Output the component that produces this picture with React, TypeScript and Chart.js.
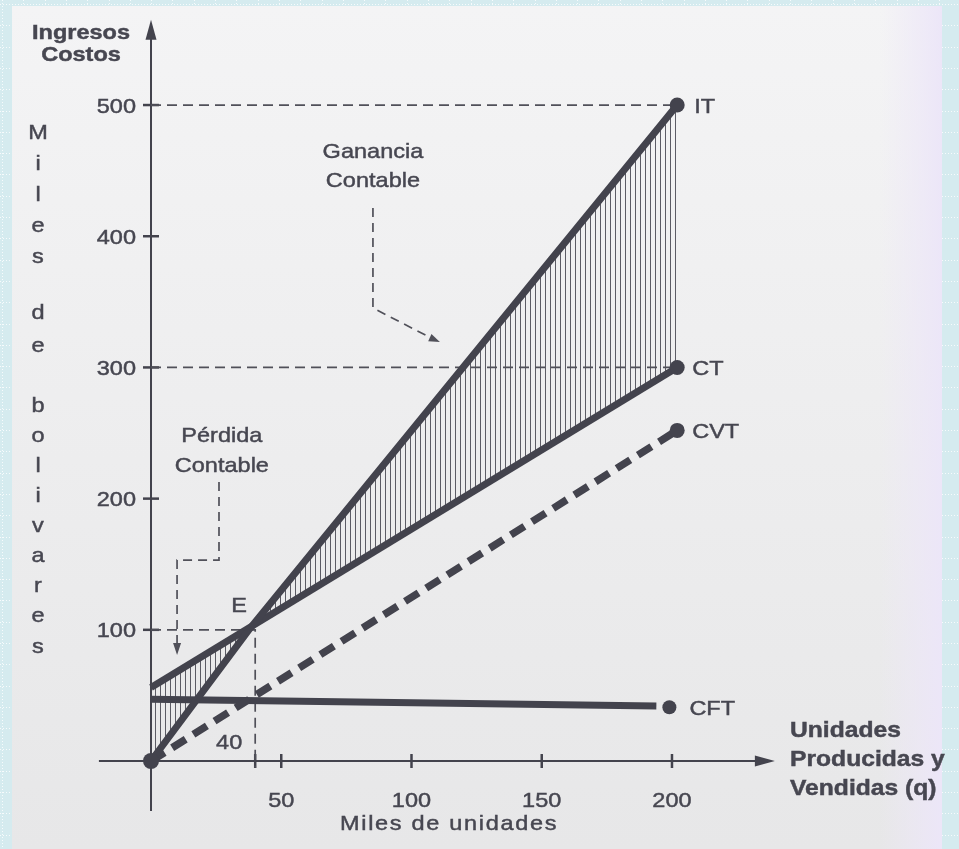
import React, { useEffect, useRef } from "react";
import { Chart, registerables } from "chart.js";
Chart.register(...registerables);

// ---- data (thousands of units / thousands of bolivares)
const itQ = [0, 38, 202];
const itV = [0, 101, 500];
const ctQ = [0, 202];
const ctV = [56, 300];
const cvtQ = [0, 202];
const cvtV = [0, 252];
const cftQ = [0, 194];
const cftV = [47, 42];
const markerQ = [0, 202, 202, 202, 199];
const markerV = [0, 500, 300, 252, 41];
const yTicks = [100, 200, 300, 400, 500];
const xTicks = [50, 100, 150, 200];
const breakEvenQ = 40;
const breakEvenV = 100;
const seriesLabels = ["IT", "CT", "CVT", "CFT"];
const yTitleWords = ["Miles", "de", "bolivares"];

const LINE = "#43434d";
const TEXT = "#474751";
const FONT = '"Liberation Sans", Arial, Helvetica, sans-serif';

const pts = (qs: number[], vs: number[]) => qs.map((q, i) => ({ x: q, y: vs[i] }));

function txt(
  ctx: CanvasRenderingContext2D,
  s: string,
  x: number,
  y: number,
  o: { size?: number; bold?: boolean; align?: CanvasTextAlign; sx?: number; spacing?: number; color?: string; baseline?: CanvasTextBaseline } = {}
) {
  ctx.save();
  ctx.translate(x, y);
  ctx.scale(o.sx ?? 1.12, 1);
  ctx.font = `${o.bold ? "bold " : ""}${o.size ?? 21}px ${FONT}`;
  (ctx as any).letterSpacing = `${o.spacing ?? 0}px`;
  ctx.textAlign = o.align ?? "left";
  ctx.textBaseline = o.baseline ?? "alphabetic";
  ctx.fillStyle = o.color ?? TEXT;
  ctx.strokeStyle = o.color ?? TEXT;
  ctx.lineWidth = 0.45;
  ctx.fillText(s, 0, 0);
  ctx.strokeText(s, 0, 0);
  ctx.restore();
}

function arrowHead(ctx: CanvasRenderingContext2D, x1: number, y1: number, x2: number, y2: number, len: number, hw: number) {
  const a = Math.atan2(y2 - y1, x2 - x1);
  ctx.beginPath();
  ctx.moveTo(x2, y2);
  ctx.lineTo(x2 - len * Math.cos(a) + hw * Math.sin(a), y2 - len * Math.sin(a) - hw * Math.cos(a));
  ctx.lineTo(x2 - len * Math.cos(a) - hw * Math.sin(a), y2 - len * Math.sin(a) + hw * Math.cos(a));
  ctx.closePath();
  ctx.fill();
}

const decor = {
  id: "decor",
  beforeDraw(chart: any) {
    const ctx: CanvasRenderingContext2D = chart.ctx;
    const W = chart.width, H = chart.height;
    ctx.save();
    ctx.fillStyle = "#d5ebef";
    ctx.fillRect(0, 0, W, H);
    ctx.fillStyle = "rgba(255,255,255,0.8)";
    for (let gx = 2; gx < W; gx += 21.3) for (let y = 0; y < H; y += 3) ctx.fillRect(Math.round(gx), y, 1, 1);
    for (let gy = 4; gy < H; gy += 21.3) for (let x = 0; x < W; x += 3) ctx.fillRect(x, Math.round(gy), 1, 1);
    const g = ctx.createLinearGradient(0, 6, 0, H);
    g.addColorStop(0, "#f4f4f5");
    g.addColorStop(1, "#e7e7e8");
    ctx.fillStyle = g;
    ctx.fillRect(12, 6, 930, H - 6);
    const g2 = ctx.createLinearGradient(880, 0, 942, 0);
    g2.addColorStop(0, "rgba(238,232,248,0)");
    g2.addColorStop(1, "rgba(236,230,248,1)");
    ctx.fillStyle = g2;
    ctx.fillRect(880, 6, 62, H - 6);
    ctx.restore();
  },
  beforeDatasetsDraw(chart: any) {
    const ctx: CanvasRenderingContext2D = chart.ctx;
    const xs = chart.scales.x, ys = chart.scales.y;
    const px = (q: number) => xs.getPixelForValue(q);
    const py = (v: number) => ys.getPixelForValue(v);
    const x0 = px(0), y0 = py(0);
    ctx.save();
    ctx.strokeStyle = LINE;
    ctx.fillStyle = LINE;
    ctx.lineWidth = 2;
    // y axis
    const yTop = py(565);
    ctx.beginPath();
    ctx.moveTo(x0, py(-38));
    ctx.lineTo(x0, yTop + 16);
    ctx.stroke();
    arrowHead(ctx, x0, yTop + 30, x0, yTop, 20, 5.5);
    // x axis
    const xRight = px(239.5);
    ctx.beginPath();
    ctx.moveTo(px(-20), y0);
    ctx.lineTo(xRight - 16, y0);
    ctx.stroke();
    arrowHead(ctx, xRight - 30, y0, xRight, y0, 20, 5.5);
    // ticks
    ctx.lineWidth = 2.5;
    yTicks.forEach((v) => {
      ctx.beginPath();
      ctx.moveTo(x0 - 8, py(v));
      ctx.lineTo(x0 + 8, py(v));
      ctx.stroke();
    });
    [breakEvenQ, ...xTicks].forEach((q) => {
      ctx.beginPath();
      ctx.moveTo(px(q), y0 - 7);
      ctx.lineTo(px(q), y0 + 7);
      ctx.stroke();
    });
    ctx.restore();
  },
  afterDraw(chart: any) {
    const ctx: CanvasRenderingContext2D = chart.ctx;
    const xs = chart.scales.x, ys = chart.scales.y;
    const px = (q: number) => xs.getPixelForValue(q);
    const py = (v: number) => ys.getPixelForValue(v);
    const x0 = px(0), y0 = py(0);

    // tick labels
    yTicks.forEach((v) => txt(ctx, String(v), x0 - 15, py(v) + 7.5, { align: "right" }));
    xTicks.forEach((q) => txt(ctx, String(q), px(q), y0 + 46, { align: "center" }));
    txt(ctx, String(breakEvenQ), px(breakEvenQ) - 26, y0 - 12, { align: "center" });
    txt(ctx, "E", px(breakEvenQ) - 16, py(breakEvenV) - 18, { align: "center" });

    // axis titles
    txt(ctx, "Ingresos", 81, 39, { align: "center", bold: true });
    txt(ctx, "Costos", 81, 61, { align: "center", bold: true });
    txt(ctx, "Miles de unidades", 340, 830, { align: "left", spacing: 1.5 });
    txt(ctx, "Unidades", 790, 737, { bold: true, size: 22 });
    txt(ctx, "Producidas y", 790, 766, { bold: true, size: 22 });
    txt(ctx, "Vendidas (q)", 790, 795, { bold: true, size: 22 });

    // vertical title letters
    const starts = [133, 313, 406];
    const steps = [31, 33, 30.1];
    yTitleWords.forEach((w, wi) => {
      w.split("").forEach((ch, i) => {
        txt(ctx, ch, 38, starts[wi] + i * steps[wi], { align: "center", baseline: "middle" });
      });
    });

    // series labels
    const lblV = [markerV[1], markerV[2], markerV[3], markerV[4]];
    const lblQ = [markerQ[1], markerQ[2], markerQ[3], markerQ[4]];
    const lblDx = [17, 15, 15, 20];
    seriesLabels.forEach((s, i) => txt(ctx, s, px(lblQ[i]) + lblDx[i], py(lblV[i]) + 7.5));

    // annotations
    txt(ctx, "Ganancia", px(85.2), 158, { align: "center" });
    txt(ctx, "Contable", px(85.2), 187, { align: "center" });
    txt(ctx, "Pérdida", px(27.2), 442, { align: "center" });
    txt(ctx, "Contable", px(27.2), 472, { align: "center" });

    ctx.save();
    ctx.strokeStyle = "#505059";
    ctx.fillStyle = "#505059";
    ctx.lineWidth = 1.7;
    ctx.setLineDash([9, 6]);
    const g = [[85.2, 421.5], [85.2, 345.3], [108.5, 321.5]];
    ctx.beginPath();
    g.forEach(([q, v], i) => (i ? ctx.lineTo(px(q), py(v)) : ctx.moveTo(px(q), py(v))));
    ctx.stroke();
    const p = [[26.1, 212.7], [26.1, 153.2], [10.0, 153.2], [10.0, 88]];
    ctx.beginPath();
    p.forEach(([q, v], i) => (i ? ctx.lineTo(px(q), py(v)) : ctx.moveTo(px(q), py(v))));
    ctx.stroke();
    ctx.setLineDash([]);
    arrowHead(ctx, px(108.5), py(321.5), px(110.9), py(319.4), 11, 4);
    arrowHead(ctx, px(10), py(90), px(10), py(80.8), 12, 4);
    ctx.restore();
  },
};

export default function App() {
  const ref = useRef<HTMLCanvasElement>(null);
  useEffect(() => {
    const canvas = ref.current!;
    const pc = document.createElement("canvas");
    pc.width = 5;
    pc.height = 4;
    const pctx = pc.getContext("2d")!;
    pctx.fillStyle = "rgba(66,66,76,0.85)";
    pctx.fillRect(0, 0, 1, 4);
    const hatch = canvas.getContext("2d")!.createPattern(pc, "repeat")!;

    const guide = {
      borderColor: "#505059",
      borderWidth: 1.7,
      borderDash: [10, 6],
      pointRadius: 0,
      fill: false,
    };
    const chart = new Chart(canvas, {
      type: "line",
      data: {
        datasets: [
          {
            label: "markers",
            data: pts(markerQ, markerV),
            showLine: false,
            pointRadius: [8, 7.5, 7.5, 7.5, 7],
            pointBackgroundColor: LINE,
            pointBorderWidth: 0,
          },
          {
            label: "IT",
            data: pts(itQ, itV),
            borderColor: LINE,
            borderWidth: 7,
            pointRadius: 0,
            fill: { target: 2, above: hatch, below: hatch },
          },
          {
            label: "CT",
            data: pts(ctQ, ctV),
            borderColor: LINE,
            borderWidth: 7,
            pointRadius: 0,
            fill: false,
          },
          {
            label: "CVT",
            data: pts(cvtQ, cvtV),
            borderColor: LINE,
            borderWidth: 7.5,
            borderDash: [16, 9],
            pointRadius: 0,
            fill: false,
          },
          {
            label: "CFT",
            data: pts(cftQ, cftV),
            borderColor: LINE,
            borderWidth: 7,
            pointRadius: 0,
            fill: false,
          },
          { label: "g500", data: pts([0, 202], [500, 500]), ...guide },
          { label: "g300", data: pts([0, 202], [300, 300]), ...guide },
          {
            label: "g100",
            data: pts([0, breakEvenQ, breakEvenQ], [breakEvenV, breakEvenV, -5]),
            ...guide,
          },
        ] as any,
      },
      options: {
        responsive: false,
        animation: false,
        events: [],
        layout: { padding: { left: 93.7, right: 169.8, top: 13.2, bottom: 35.5 } },
        elements: { line: { tension: 0, borderCapStyle: "butt" } },
        scales: {
          x: { type: "linear", min: -22, max: 245, display: false },
          y: { type: "linear", min: -40, max: 570, display: false },
        },
        plugins: {
          legend: { display: false },
          tooltip: { enabled: false },
          filler: { drawTime: "beforeDatasetsDraw", propagate: false },
        } as any,
      },
      plugins: [decor],
    });
    return () => chart.destroy();
  }, []);
  return (
    <div style={{ position: "fixed", left: 0, top: 0, width: 959, height: 849 }}>
      <canvas ref={ref} width={959} height={849} style={{ display: "block", width: 959, height: 849 }} />
    </div>
  );
}
